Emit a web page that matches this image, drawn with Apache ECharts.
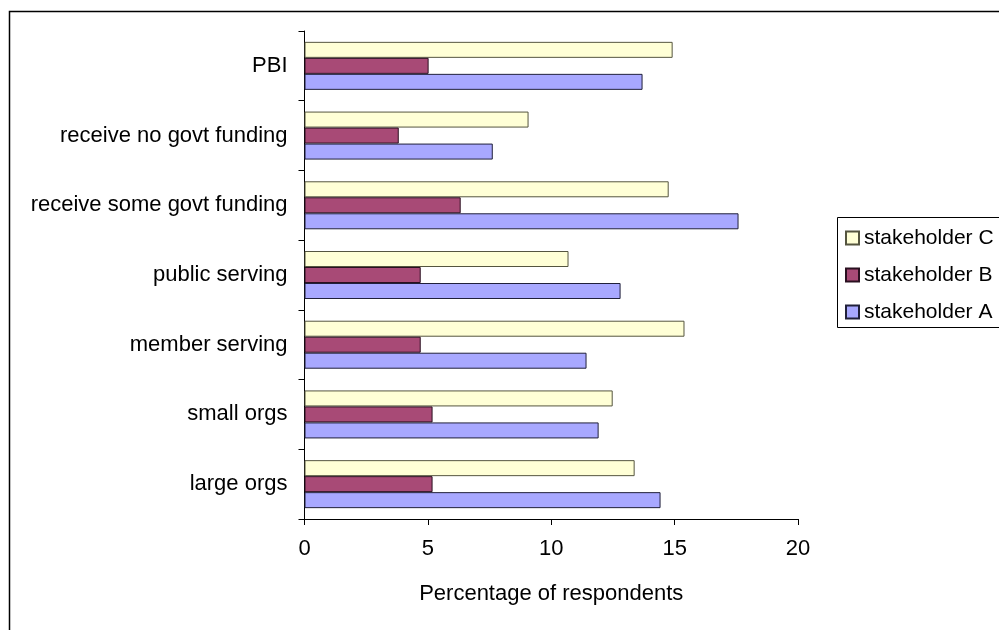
<!DOCTYPE html>
<html>
<head>
<meta charset="utf-8">
<script src="https://cdn.jsdelivr.net/npm/echarts@6/dist/echarts.min.js"></script>
<style>
html,body{margin:0;padding:0;background:#fff;}
#chart{width:999px;height:630px;}
</style>
</head>
<body>
<div id="chart"></div>
<script>
var categories = ['large orgs','small orgs','member serving','public serving','receive some govt funding','receive no govt funding','PBI'];
var stakeholderA = [14.43, 11.92, 11.43, 12.81, 17.59, 7.63, 13.70];
var stakeholderB = [5.19, 5.19, 4.71, 4.71, 6.33, 3.82, 5.03];
var stakeholderC = [13.38, 12.49, 15.40, 10.70, 14.76, 9.08, 14.92];
var xTicks = [0, 5, 10, 15, 20];
var legendNames = ['stakeholder C','stakeholder B','stakeholder A'];

var FONT = '"Liberation Sans", Arial, sans-serif';
var chart = echarts.init(document.getElementById('chart'), null, {renderer:'canvas'});
var option = {
  animation: false,
  backgroundColor: '#ffffff',
  textStyle: {fontFamily: FONT},
  graphic: [
    {type:'rect', shape:{x:9.5, y:11.5, width:1100, height:700}, style:{fill:'none', stroke:'#000', lineWidth:1.5}, z:-1},
    {type:'rect', shape:{x:837.5, y:217.5, width:200, height:110}, style:{fill:'#fff', stroke:'#000', lineWidth:1}, z:5}
  ],
  grid: {left:304.5, right:201, top:31, bottom:111, containLabel:false},
  legend: {
    data: legendNames,
    orient: 'vertical',
    left: 845, top: 226,
    padding: 0,
    itemWidth: 13, itemHeight: 13,
    itemGap: 13,
    icon: 'rect',
    z: 10,
    textStyle: {fontFamily: FONT, fontSize: 21, color:'#000', lineHeight:24, padding:[0,0,0,0]}
  },
  xAxis: {
    type: 'value', min: xTicks[0], max: xTicks[xTicks.length-1], interval: 5,
    name: 'Percentage of respondents', nameLocation: 'middle', nameGap: 64,
    nameTextStyle: {fontFamily: FONT, fontSize: 22, color:'#000'},
    axisLine: {show:true, lineStyle:{color:'#000', width:1}},
    axisTick: {show:true, length:6, lineStyle:{color:'#000'}},
    axisLabel: {fontFamily: FONT, fontSize: 22, color:'#000', margin: 19},
    splitLine: {show:false}
  },
  yAxis: {
    type: 'category', data: categories,
    axisLine: {show:true, lineStyle:{color:'#000', width:1}},
    axisTick: {show:true, length:6, lineStyle:{color:'#000'}},
    axisLabel: {fontFamily: FONT, fontSize: 22, color:'#000', margin: 17},
    splitLine: {show:false}
  },
  series: [
    {name:'stakeholder C', type:'bar', data: stakeholderC, barWidth:16, barGap:'0%',
     itemStyle:{color:'#FFFFD6', borderColor:'#55553f', borderWidth:1}},
    {name:'stakeholder B', type:'bar', data: stakeholderB, barWidth:16, barGap:'0%',
     itemStyle:{color:'#A84A76', borderColor:'#2a1020', borderWidth:1}},
    {name:'stakeholder A', type:'bar', data: stakeholderA, barWidth:16, barGap:'0%',
     itemStyle:{color:'#A8A8FF', borderColor:'#20203a', borderWidth:1}}
  ]
};
chart.setOption(option);
</script>
</body>
</html>
